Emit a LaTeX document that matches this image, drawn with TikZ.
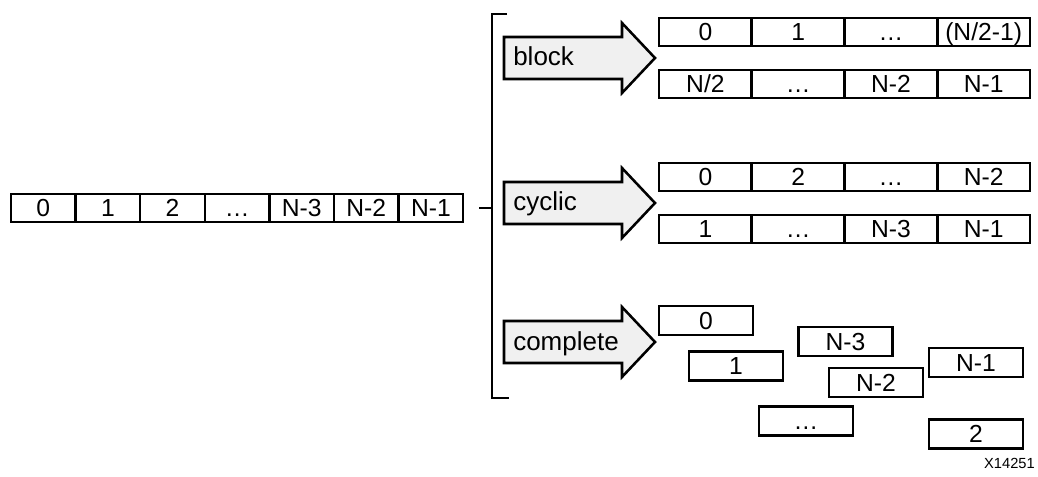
\documentclass[tikz,border=0pt]{standalone}
\usepackage{fontspec}
\setmainfont{Liberation Sans}
\usetikzlibrary{positioning}

\tikzset{
  cell/.style={draw, line width=1.9pt, outer sep=0pt, inner sep=0pt,
    minimum height=21pt, text height=13.3pt, text depth=0pt,
    font=\fontsize{18.5}{20}\selectfont},
  fatarrow/.style={draw, line width=1.9pt, fill=gray!12, line join=miter},
  arrowlabel/.style={inner sep=0pt, font=\fontsize{19.5}{22}\selectfont},
}

\begin{document}
\begin{tikzpicture}[x=0.75pt, y=-0.75pt]
  \useasboundingbox (0,0) rectangle (1038,477);
  % Input array
  \foreach \lab [count=\i] in {0,1,2,\ldots,N-3,N-2,N-1}
    \node[cell, minimum width=48.45pt] (in\i) at ({11+64.6*(\i-0.5)},208) {\lab};
  % Stub and bracket
  \coordinate (stub) at (479,208);
  \coordinate (brk) at (492,208);
  \draw[line width=1.4pt] (stub) -- (brk);
  \draw[line width=1.4pt] (507,14) -- (492,14) -- (492,398) -- (509,398);
  % Partition arrows
  \foreach \name/\y in {block/58, cyclic/203, complete/342}{
    \draw[fatarrow] (504,\y-21) -- (622,\y-21) -- (622,\y-35) -- (655,\y)
      -- (622,\y+35) -- (622,\y+21) -- (504,\y+21) -- cycle;
    \node[arrowlabel, anchor=base west] (\name) at (513,\y+8) {\name};
  }
  % block
  \foreach \lab [count=\i] in {0,1,\ldots,(N/2-1)}
    \node[cell, minimum width=69.75pt] (bt\i) at ({659+92.75*(\i-0.5)},32) {\lab};
  \foreach \lab [count=\i] in {N/2,\ldots,N-2,N-1}
    \node[cell, minimum width=69.75pt] (bb\i) at ({659+92.75*(\i-0.5)},84) {\lab};
  % cyclic
  \foreach \lab [count=\i] in {0,2,\ldots,N-2}
    \node[cell, minimum width=69.75pt] (ct\i) at ({659+92.75*(\i-0.5)},177) {\lab};
  \foreach \lab [count=\i] in {1,\ldots,N-3,N-1}
    \node[cell, minimum width=69.75pt] (cb\i) at ({659+92.75*(\i-0.5)},229) {\lab};
  % complete
  \foreach \lab/\x/\y [count=\i] in {0/706/320.5, 1/736/366, N-3/845.5/341.5,
      N-2/876/382.5, N-1/976/362.5, \ldots/806/421, 2/976/434}
    \node[cell, minimum width=70.5pt, minimum height=21.75pt] (cp\i) at (\x,\y) {\lab};
  \node[inner sep=0pt, anchor=east, font=\fontsize{11}{13}\selectfont] (fignum) at (1035,463) {X14251};
\end{tikzpicture}
\end{document}
